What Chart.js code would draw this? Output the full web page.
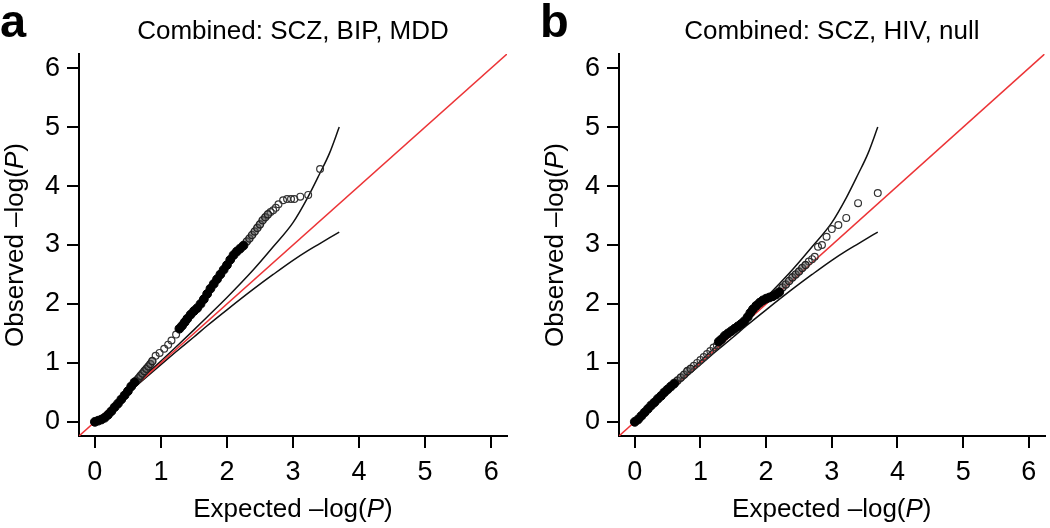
<!DOCTYPE html>
<html>
<head>
<meta charset="utf-8">
<script src="https://cdn.jsdelivr.net/npm/chart.js@4.4.1/dist/chart.umd.min.js"></script>
<style>
  html, body { margin: 0; padding: 0; background: #fff; }
  .panel { position: absolute; top: 0; width: 525px; height: 528px; }
  #panelA { left: 0; }
  #panelB { left: 525px; }
</style>
</head>
<body>
<div class="panel" id="panelA"><canvas id="chartA" width="525" height="528"></canvas></div>
<div class="panel" id="panelB"><canvas id="chartB" width="525" height="528"></canvas></div>
<script>
// axis range and ticks (same on both axes, both panels)
const axisMin = -0.24;
const axisMax = 6.24;
const tickValues = [0, 1, 2, 3, 4, 5, 6];

// 90% confidence band, shared by both panels
const ciExpected = [0, 0.3, 0.7, 1.0, 1.22, 1.5, 1.7, 2.0, 2.4, 2.7, 3.0, 3.22, 3.4, 3.55, 3.7];
const ciUpper    = [0, 0.31, 0.72, 1.03, 1.26, 1.56, 1.78, 2.11, 2.58, 2.97, 3.38, 3.8, 4.2, 4.55, 5.0];
const ciLower    = [0, 0.29, 0.68, 0.97, 1.18, 1.44, 1.63, 1.9, 2.25, 2.5, 2.74, 2.9, 3.02, 3.12, 3.22];

// panel a: SCZ, BIP, MDD  [expected, observed]
const aSolid = [[0,0],[0.05,0.02],[0.1,0.04],[0.15,0.07],[0.2,0.12],[0.25,0.18],[0.3,0.25],[0.35,0.31],
  [0.4,0.38],[0.45,0.45],[0.5,0.52],[0.55,0.6],[0.6,0.67],
  [1.28,1.58],[1.32,1.63],[1.36,1.69],[1.4,1.75],[1.45,1.82],[1.5,1.88],[1.55,1.93],[1.6,2.0],
  [1.65,2.08],[1.7,2.17],[1.75,2.26],[1.8,2.34],[1.85,2.42],[1.9,2.5],[1.95,2.58],[2.0,2.66],
  [2.05,2.75],[2.1,2.83],[2.15,2.89],[2.2,2.94],[2.25,2.99]];
const aMid = [[0.63,0.7],[0.66,0.74],[0.69,0.78],[0.72,0.82],[0.75,0.86],[0.78,0.9],[0.81,0.94],
  [0.84,0.98],[0.87,1.03],
  [2.3,3.06],[2.34,3.11],[2.38,3.17],[2.42,3.23],[2.46,3.29],[2.5,3.35],[2.54,3.42],[2.58,3.47],[2.62,3.52]];
const aOpen = [[0.92,1.12],[0.98,1.17],[1.05,1.24],[1.11,1.31],[1.16,1.38],[1.23,1.48],
  [2.66,3.56],[2.7,3.59],[2.74,3.63],[2.78,3.69],[2.85,3.76],[2.91,3.78],[2.97,3.78],[3.02,3.78],
  [3.11,3.82],[3.23,3.85],[3.41,4.29]];

// panel b: SCZ, HIV, null
const bSolid = [[0,0],[0.05,0.04],[0.1,0.1],[0.15,0.16],[0.2,0.22],[0.25,0.28],[0.3,0.33],[0.35,0.39],
  [0.4,0.44],[0.45,0.5],[0.5,0.55],[0.55,0.6],[0.6,0.65],
  [1.28,1.36],[1.32,1.4],[1.37,1.46],[1.42,1.5],[1.47,1.54],[1.52,1.58],[1.57,1.62],[1.62,1.66],
  [1.67,1.71],[1.72,1.78],[1.76,1.85],[1.8,1.91],[1.85,1.97],[1.9,2.02],[1.95,2.06],[2.0,2.09],
  [2.05,2.11],[2.1,2.13],[2.15,2.16],[2.2,2.2]];
const bMid = [[0.65,0.7],[0.7,0.75],[0.75,0.8],[0.8,0.86],[0.85,0.9],
  [2.25,2.28],[2.3,2.33],[2.35,2.39],[2.4,2.45],[2.45,2.5],[2.5,2.55],[2.55,2.61],[2.6,2.66]];
const bOpen = [[0.9,0.95],[0.95,1.0],[1.0,1.05],[1.05,1.1],[1.1,1.15],[1.15,1.2],[1.2,1.26],[1.25,1.3],
  [2.65,2.72],[2.7,2.76],[2.74,2.8],[2.79,2.97],[2.85,3.0],[2.92,3.14],[3.0,3.27],[3.1,3.34],
  [3.22,3.46],[3.4,3.71],[3.7,3.88]];

const FONT = '"Liberation Sans", Arial, Helvetica, sans-serif';

function toXY(pairs) {
  return pairs.map(p => ({ x: p[0], y: p[1] }));
}

// draws "text (P)" with the P in italics, centred on x
function drawMixed(ctx, parts, x, y, size) {
  const fonts = parts.map(p => (p.italic ? 'italic ' : '') + size + 'px ' + FONT);
  let total = 0;
  const widths = parts.map((p, i) => { ctx.font = fonts[i]; const w = ctx.measureText(p.text).width; total += w; return w; });
  let cur = x - total / 2;
  ctx.textAlign = 'left';
  parts.forEach((p, i) => { ctx.font = fonts[i]; ctx.fillText(p.text, cur, y); cur += widths[i]; });
}

const panelText = {
  id: 'panelText',
  afterDraw(chart, args, opts) {
    const { ctx, chartArea } = chart;
    const cx = (chartArea.left + chartArea.right) / 2;
    const cy = (chartArea.top + chartArea.bottom) / 2;
    ctx.save();
    ctx.fillStyle = '#000';
    ctx.textBaseline = 'alphabetic';

    ctx.font = 'bold 47px ' + FONT;
    ctx.textAlign = 'left';
    ctx.fillText(opts.letter, opts.letterX, 37);

    ctx.font = '26px ' + FONT;
    ctx.textAlign = 'center';
    ctx.fillText(opts.title, cx, 39);

    drawMixed(ctx, [{ text: 'Expected \u2013log(' }, { text: 'P', italic: true }, { text: ')' }], cx, 517, 26);

    ctx.translate(chartArea.left - 56, cy);
    ctx.rotate(-Math.PI / 2);
    drawMixed(ctx, [{ text: 'Observed \u2013log(' }, { text: 'P', italic: true }, { text: ')' }], 0, 0, 26);
    ctx.restore();
  }
};

function axisConfig(isX, size) {
  return {
    type: 'linear',
    min: axisMin,
    max: axisMax,
    afterBuildTicks: axis => { axis.ticks = tickValues.map(v => ({ value: v })); },
    afterFit: axis => { if (isX) axis.height = size; else axis.width = size; },
    grid: { display: true, drawOnChartArea: false, drawTicks: true, tickLength: 12, color: '#000', lineWidth: 2 },
    border: { display: true, color: '#000', width: 2 },
    ticks: { color: '#000', padding: isX ? 8 : 7, maxRotation: 0, font: { family: FONT, size: 27 } }
  };
}

function makePanel(canvasId, letter, letterX, title, solid, mid, open, yWidth, padRight) {
  new Chart(document.getElementById(canvasId), {
    type: 'scatter',
    data: {
      datasets: [
        { data: toXY(solid), pointRadius: 4.4, backgroundColor: '#000', borderColor: '#000', borderWidth: 1, order: 0 },
        { data: toXY(mid), pointRadius: 3.6, backgroundColor: 'rgba(90,90,90,0.55)', borderColor: '#222', borderWidth: 1.4, order: 1 },
        { data: toXY(open), pointRadius: 3.4, backgroundColor: 'rgba(255,255,255,0)', borderColor: '#333', borderWidth: 1.2, order: 2 },
        { data: ciExpected.map((x, i) => ({ x, y: ciUpper[i] })), showLine: true, pointRadius: 0, borderColor: '#111', borderWidth: 1.5, cubicInterpolationMode: 'monotone', order: 4 },
        { data: ciExpected.map((x, i) => ({ x, y: ciLower[i] })), showLine: true, pointRadius: 0, borderColor: '#111', borderWidth: 1.5, cubicInterpolationMode: 'monotone', order: 4 },
        { data: [{ x: axisMin, y: axisMin }, { x: axisMax, y: axisMax }], showLine: true, pointRadius: 0, borderColor: '#ec3437', borderWidth: 1.5, order: 3 }
      ]
    },
    options: {
      responsive: false,
      animation: false,
      layout: { padding: { top: 54, right: padRight, left: 0, bottom: 0 } },
      plugins: {
        legend: { display: false },
        tooltip: { enabled: false },
        panelText: { letter: letter, letterX: letterX, title: title }
      },
      scales: {
        x: axisConfig(true, 92),
        y: axisConfig(false, yWidth)
      }
    },
    plugins: [panelText]
  });
}

makePanel('chartA', 'a', 0, 'Combined: SCZ, BIP, MDD', aSolid, aMid, aOpen, 79, 18);
makePanel('chartB', 'b', 15, 'Combined: SCZ, HIV, null', bSolid, bMid, bOpen, 94, 3);
</script>
</body>
</html>
